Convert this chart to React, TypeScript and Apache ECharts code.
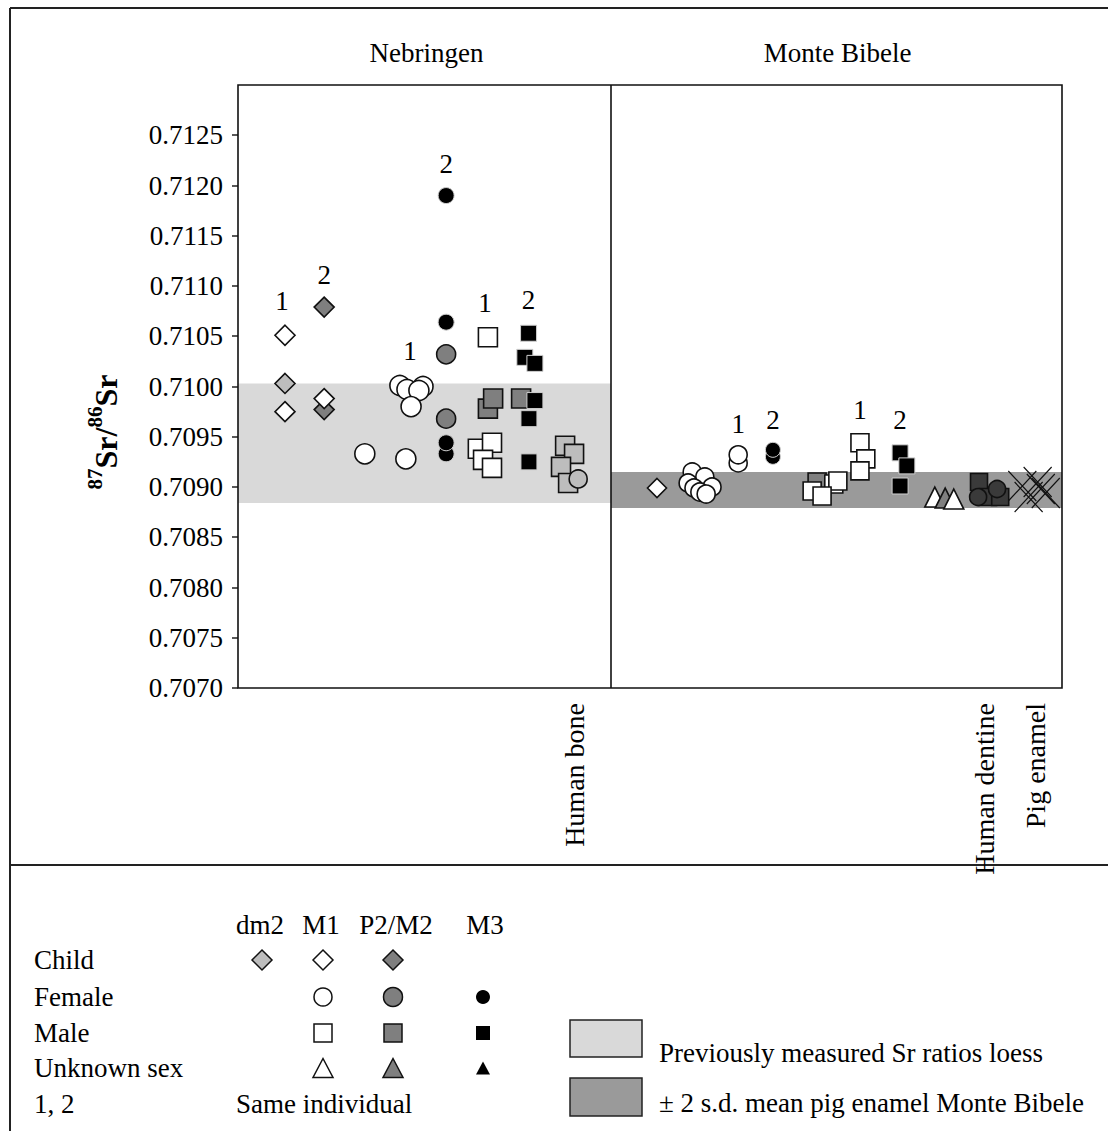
import React, { useEffect, useRef } from "react";
import * as echarts from "echarts";

const SERIF = "'Liberation Serif', 'Times New Roman', serif";

// ---- y scale -------------------------------------------------------------
const Y_MIN = 0.707;
const Y_MAX = 0.713;
const yTickValues = [
  0.707, 0.7075, 0.708, 0.7085, 0.709, 0.7095, 0.71, 0.7105, 0.711, 0.7115,
  0.712, 0.7125,
];

const siteTitles = ["Nebringen", "Monte Bibele"];
const materialLabels = ["Human bone", "Human dentine", "Pig enamel"];

// reference ranges (87Sr/86Sr)
const loessRange = [0.70884, 0.71003];
const pigEnamelRange = [0.70879, 0.70915];

// ---- Nebringen: [position within panel 0-100, 87Sr/86Sr] -----------------
const nebChildDm2 = [[12.6, 0.71003]];
const nebChildP2M2 = [[23.1, 0.71079], [23.1, 0.70977]];
const nebChildM1 = [[12.6, 0.71051], [12.6, 0.70975], [23.1, 0.70988]];
const nebFemaleM1 = [
  [34.0, 0.70933], [43.4, 0.71001], [49.6, 0.71000], [45.3, 0.70997],
  [48.5, 0.70996], [46.4, 0.7098], [45.0, 0.70928],
];
const nebFemaleP2M2 = [[55.8, 0.71032], [55.8, 0.70968]];
const nebFemaleM3 = [[55.8, 0.7119], [55.8, 0.71064], [55.8, 0.70933], [55.8, 0.70944]];
const nebMaleM1 = [
  [67.0, 0.71049], [64.3, 0.70938], [68.1, 0.70944], [65.7, 0.70927], [68.1, 0.70919],
];
const nebMaleP2M2 = [[67.0, 0.70978], [68.4, 0.70988], [75.9, 0.70988]];
const nebMaleM3 = [
  [77.9, 0.71053], [76.9, 0.71029], [79.6, 0.71023], [79.6, 0.70986],
  [78.0, 0.70968], [78.0, 0.70925],
];
const nebBoneRect = [[87.7, 0.70941], [90.1, 0.70933], [86.6, 0.7092], [88.5, 0.70904]];
const nebBoneCircle = [[91.2, 0.70908]];

// ---- Monte Bibele -----------------------------------------------------------
const mbChildM1 = [[10.2, 0.70899]];
const mbFemaleM1 = [
  [18.0, 0.70915], [20.8, 0.7091], [17.1, 0.70904], [22.4, 0.709],
  [18.4, 0.70899], [19.7, 0.70895], [21.1, 0.70893],
  [28.2, 0.70924], [28.2, 0.70932],
];
const mbFemaleM3 = [[35.9, 0.7093], [35.9, 0.70937]];
const mbMaleP2M2 = [[45.7, 0.70905]];
const mbMaleM1 = [
  [44.6, 0.70896], [49.4, 0.70903], [50.3, 0.70906], [46.8, 0.70891],
  [55.2, 0.70944], [56.5, 0.70928], [55.2, 0.70916],
];
const mbMaleM3 = [[64.1, 0.70934], [65.6, 0.70921], [64.1, 0.70901]];
const mbUnknownM1a = [[71.8, 0.7089]];
const mbUnknownP2M2 = [[74.1, 0.70889]];
const mbUnknownM1b = [[76.0, 0.70888]];
const mbDentineRect = [[81.6, 0.70905], [83.6, 0.7089], [86.3, 0.7089]];
const mbDentineCircle = [[81.4, 0.7089], [85.6, 0.70898]];
const mbPigEnamel = [
  [91.2, 0.70901], [94.6, 0.70905], [92.6, 0.7089], [96.4, 0.70894], [95.3, 0.70898],
];

// ---- fills -----------------------------------------------------------------
const WHITE = "#ffffff";
const LIGHT = "#bdbdbd";
const MID = "#7f7f7f";
const DARK = "#3a3a3a";
const BLACK = "#000000";
const LOESS_FILL = "#d9d9d9";
const PIG_FILL = "#9a9a9a";

const CROSS = "path://M0,0L10,10M10,0L0,10";

// ---- layout ------------------------------------------------------------------
const PLOT_LEFT = 238;
const PLOT_MID = 611;
const PLOT_RIGHT = 1062;
const PLOT_TOP = 85;
const PLOT_BOTTOM = 688;
const W = 1108;
const H = 1131;

type Tag = { i: number; text: string; dist?: number; dx?: number };
type Group = {
  name: string;
  panel: 0 | 1;
  symbol: string;
  size: number | number[];
  fill: string;
  data: number[][];
  tags?: Tag[];
  stroke?: string;
  lw?: number;
};

const groups: Group[] = [
  { name: "child dm2", panel: 0, symbol: "diamond", size: 20, fill: LIGHT, data: nebChildDm2 },
  { name: "child P2/M2", panel: 0, symbol: "diamond", size: 20, fill: MID, data: nebChildP2M2, tags: [{ i: 0, text: "2", dist: 8 }] },
  { name: "child M1", panel: 0, symbol: "diamond", size: 20, fill: WHITE, data: nebChildM1, tags: [{ i: 0, text: "1", dist: 10, dx: -3 }] },
  { name: "female M1", panel: 0, symbol: "circle", size: 20, fill: WHITE, data: nebFemaleM1, tags: [{ i: 1, text: "1", dist: 10, dx: 10 }] },
  { name: "female P2/M2", panel: 0, symbol: "circle", size: 19, fill: MID, data: nebFemaleP2M2 },
  { name: "female M3", panel: 0, symbol: "circle", size: 16, fill: BLACK, data: nebFemaleM3, tags: [{ i: 0, text: "2", dist: 10 }], stroke: "#d0d0d0", lw: 1 },
  { name: "male P2/M2", panel: 0, symbol: "rect", size: 19, fill: MID, data: nebMaleP2M2 },
  { name: "male M1", panel: 0, symbol: "rect", size: 19, fill: WHITE, data: nebMaleM1, tags: [{ i: 0, text: "1", dist: 10, dx: -3 }] },
  { name: "male M3", panel: 0, symbol: "rect", size: 16, fill: BLACK, data: nebMaleM3, tags: [{ i: 0, text: "2", dist: 11 }], stroke: "#d0d0d0", lw: 1 },
  { name: "human bone", panel: 0, symbol: "rect", size: 19, fill: LIGHT, data: nebBoneRect },
  { name: "human bone ", panel: 0, symbol: "circle", size: 18, fill: LIGHT, data: nebBoneCircle },

  { name: "child M1 MB", panel: 1, symbol: "diamond", size: 19, fill: WHITE, data: mbChildM1 },
  { name: "female M1 MB", panel: 1, symbol: "circle", size: 18, fill: WHITE, data: mbFemaleM1, tags: [{ i: 8, text: "1", dist: 8 }] },
  { name: "female M3 MB", panel: 1, symbol: "circle", size: 15, fill: BLACK, data: mbFemaleM3, tags: [{ i: 1, text: "2", dist: 8 }], stroke: "#d0d0d0", lw: 1 },
  { name: "male P2/M2 MB", panel: 1, symbol: "rect", size: 18, fill: MID, data: mbMaleP2M2 },
  { name: "male M1 MB", panel: 1, symbol: "rect", size: 18, fill: WHITE, data: mbMaleM1, tags: [{ i: 4, text: "1", dist: 9 }] },
  { name: "male M3 MB", panel: 1, symbol: "rect", size: 16, fill: BLACK, data: mbMaleM3, tags: [{ i: 0, text: "2", dist: 11 }], stroke: "#d0d0d0", lw: 1 },
  { name: "unknown M1 MB", panel: 1, symbol: "triangle", size: [20, 20], fill: WHITE, data: mbUnknownM1a },
  { name: "unknown P2/M2 MB", panel: 1, symbol: "triangle", size: [20, 20], fill: MID, data: mbUnknownP2M2 },
  { name: "unknown M1 MB ", panel: 1, symbol: "triangle", size: [20, 20], fill: WHITE, data: mbUnknownM1b },
  { name: "human dentine", panel: 1, symbol: "rect", size: 17, fill: DARK, data: mbDentineRect },
  { name: "human dentine ", panel: 1, symbol: "circle", size: 17, fill: DARK, data: mbDentineCircle },
  { name: "pig enamel", panel: 1, symbol: CROSS, size: [28, 30], fill: "rgba(0,0,0,0)", data: mbPigEnamel, lw: 1.2 },
];

function buildData(points: number[][], tags?: Tag[]) {
  return points.map((p, i) => {
    const tag = tags?.find((t) => t.i === i);
    if (!tag) return p;
    return {
      value: p,
      label: {
        show: true,
        formatter: tag.text,
        position: "top",
        distance: tag.dist ?? 10,
        offset: [tag.dx ?? 0, 0],
        fontSize: 27,
        fontFamily: SERIF,
        color: "#000",
      },
    };
  });
}

const txt = (
  x: number,
  y: number,
  text: string,
  align: string = "left",
  fontSize = 27,
  rotation = 0
) => ({
  type: "text",
  x,
  y,
  rotation,
  z: 60,
  style: {
    text,
    x: 0,
    y: 0,
    align,
    verticalAlign: "middle",
    fontFamily: SERIF,
    fontSize,
    fill: "#000",
  },
});

const line = (x1: number, y1: number, x2: number, y2: number, lw = 2, color = "#222") => ({
  type: "line",
  z: 60,
  shape: { x1, y1, x2, y2 },
  style: { stroke: color, lineWidth: lw },
});

const diamondPts = (cx: number, cy: number, w: number, h: number) => [
  [cx, cy - h / 2], [cx + w / 2, cy], [cx, cy + h / 2], [cx - w / 2, cy],
];
const trianglePts = (cx: number, cy: number, w: number, h: number) => [
  [cx, cy - h / 2], [cx + w / 2, cy + h / 2], [cx - w / 2, cy + h / 2],
];

const keyStroke = { stroke: "#111", lineWidth: 1.5 };

function legendGraphics() {
  const colX = [262, 323, 393, 483];
  const header = 925;
  const rows = { child: 960, female: 997, male: 1033, unknown: 1068, same: 1104 };
  const g: any[] = [];
  g.push(txt(260, header, "dm2", "center"));
  g.push(txt(321, header, "M1", "center"));
  g.push(txt(396, header, "P2/M2", "center"));
  g.push(txt(485, header, "M3", "center"));
  g.push(txt(34, rows.child, "Child"));
  g.push(txt(34, rows.female, "Female"));
  g.push(txt(34, rows.male, "Male"));
  g.push(txt(34, rows.unknown, "Unknown sex"));
  g.push(txt(34, rows.same, "1, 2"));
  g.push(txt(236, rows.same, "Same individual"));

  // child diamonds
  [LIGHT, WHITE, MID].forEach((fill, k) => {
    g.push({ type: "polygon", z: 60, shape: { points: diamondPts(colX[k], rows.child, 20, 20) }, style: { fill, ...keyStroke } });
  });
  // female circles
  g.push({ type: "circle", z: 60, shape: { cx: colX[1], cy: rows.female, r: 9 }, style: { fill: WHITE, ...keyStroke } });
  g.push({ type: "circle", z: 60, shape: { cx: colX[2], cy: rows.female, r: 9.5 }, style: { fill: MID, ...keyStroke } });
  g.push({ type: "circle", z: 60, shape: { cx: colX[3], cy: rows.female, r: 7 }, style: { fill: BLACK } });
  // male squares
  g.push({ type: "rect", z: 60, shape: { x: colX[1] - 9, y: rows.male - 9, width: 18, height: 18 }, style: { fill: WHITE, ...keyStroke } });
  g.push({ type: "rect", z: 60, shape: { x: colX[2] - 9, y: rows.male - 9, width: 18, height: 18 }, style: { fill: MID, ...keyStroke } });
  g.push({ type: "rect", z: 60, shape: { x: colX[3] - 7, y: rows.male - 7, width: 14, height: 14 }, style: { fill: BLACK } });
  // unknown-sex triangles
  g.push({ type: "polygon", z: 60, shape: { points: trianglePts(colX[1], rows.unknown, 20, 19) }, style: { fill: WHITE, ...keyStroke } });
  g.push({ type: "polygon", z: 60, shape: { points: trianglePts(colX[2], rows.unknown, 20, 19) }, style: { fill: MID, ...keyStroke } });
  g.push({ type: "polygon", z: 60, shape: { points: trianglePts(colX[3], rows.unknown, 14, 13) }, style: { fill: BLACK } });

  // range swatches
  g.push({ type: "rect", z: 60, shape: { x: 570, y: 1020, width: 72, height: 37 }, style: { fill: LOESS_FILL, stroke: "#222", lineWidth: 1.5 } });
  g.push({ type: "rect", z: 60, shape: { x: 570, y: 1078, width: 72, height: 38 }, style: { fill: PIG_FILL, stroke: "#222", lineWidth: 1.5 } });
  g.push(txt(659, 1053, "Previously measured Sr ratios loess"));
  g.push(txt(659, 1103, "\u00B1 2 s.d. mean pig enamel Monte Bibele"));
  return g;
}

export default function App() {
  const ref = useRef<HTMLDivElement>(null);

  useEffect(() => {
    document.body.style.margin = "0";
    if (!ref.current) return;
    const chart = echarts.init(ref.current, null, { renderer: "svg" });

    const gridH = PLOT_BOTTOM - PLOT_TOP;
    const series: any[] = [
      {
        type: "scatter",
        name: "loess band",
        xAxisIndex: 0,
        yAxisIndex: 0,
        data: [],
        z: 1,
        markArea: {
          silent: true,
          itemStyle: { color: LOESS_FILL },
          data: [[{ yAxis: loessRange[0] }, { yAxis: loessRange[1] }]],
        },
      },
      {
        type: "scatter",
        name: "pig enamel band",
        xAxisIndex: 1,
        yAxisIndex: 1,
        data: [],
        z: 1,
        markArea: {
          silent: true,
          itemStyle: { color: PIG_FILL },
          data: [[{ yAxis: pigEnamelRange[0] }, { yAxis: pigEnamelRange[1] }]],
        },
      },
    ];

    groups.forEach((g) => {
      series.push({
        type: "scatter",
        name: g.name,
        xAxisIndex: g.panel,
        yAxisIndex: g.panel,
        symbol: g.symbol,
        symbolSize: g.size,
        z: 5,
        itemStyle: {
          color: g.fill,
          borderColor: g.stroke ?? "#111",
          borderWidth: g.lw ?? 1.6,
          opacity: 1,
        },
        emphasis: { disabled: true },
        data: buildData(g.data, g.tags),
      });
    });

    const yAxisCommon = { type: "value", min: Y_MIN, max: Y_MAX, interval: 0.0005 };

    chart.setOption({
      animation: false,
      backgroundColor: "#ffffff",
      grid: [
        { left: PLOT_LEFT, top: PLOT_TOP, width: PLOT_MID - PLOT_LEFT, height: gridH, show: false },
        { left: PLOT_MID, top: PLOT_TOP, width: PLOT_RIGHT - PLOT_MID, height: gridH, show: false },
      ],
      xAxis: [
        { type: "value", gridIndex: 0, min: 0, max: 100, show: false },
        { type: "value", gridIndex: 1, min: 0, max: 100, show: false },
      ],
      yAxis: [
        {
          ...yAxisCommon,
          gridIndex: 0,
          axisLine: { show: false },
          splitLine: { show: false },
          axisTick: {
            show: true,
            inside: false,
            length: 6,
            customValues: yTickValues,
            lineStyle: { color: "#222", width: 1.5 },
          },
          axisLabel: {
            customValues: yTickValues,
            margin: 15,
            fontFamily: SERIF,
            fontSize: 27,
            color: "#000",
            formatter: (v: number) => v.toFixed(4),
          },
        },
        { ...yAxisCommon, gridIndex: 1, show: false },
      ],
      series,
      graphic: [
        // outer frame and legend separator
        line(10, 8, W, 8),
        line(10, 8, 10, H),
        line(10, 865, W, 865),
        // plot boxes
        {
          type: "rect",
          z: 60,
          shape: { x: PLOT_LEFT, y: PLOT_TOP, width: PLOT_RIGHT - PLOT_LEFT, height: gridH },
          style: { fill: "none", stroke: "#111", lineWidth: 1.6 },
        },
        line(PLOT_MID, PLOT_TOP, PLOT_MID, PLOT_BOTTOM, 1.6, "#111"),
        // site titles
        txt((PLOT_LEFT + PLOT_MID) / 2 + 2, 53, siteTitles[0], "center", 27),
        txt((PLOT_MID + PLOT_RIGHT) / 2 + 1, 53, siteTitles[1], "center", 27),
        // material labels under the columns
        txt(574, 703, materialLabels[0], "right", 28, Math.PI / 2),
        txt(984, 703, materialLabels[1], "right", 28, Math.PI / 2),
        txt(1035, 703, materialLabels[2], "right", 28, Math.PI / 2),
        // y axis title
        {
          type: "text",
          x: 103,
          y: 432,
          rotation: Math.PI / 2,
          z: 60,
          style: {
            text: "{sup|87}{main|Sr/}{sup|86}{main|Sr}",
            align: "center",
            verticalAlign: "middle",
            fill: "#000",
            rich: {
              main: { fontFamily: SERIF, fontSize: 32, fontWeight: "bold", verticalAlign: "bottom", lineHeight: 38 },
              sup: { fontFamily: SERIF, fontSize: 21, fontWeight: "bold", verticalAlign: "top", lineHeight: 38 },
            },
          },
        },
        ...legendGraphics(),
      ],
    });

    return () => chart.dispose();
  }, []);

  return <div ref={ref} style={{ width: W, height: H }} />;
}
